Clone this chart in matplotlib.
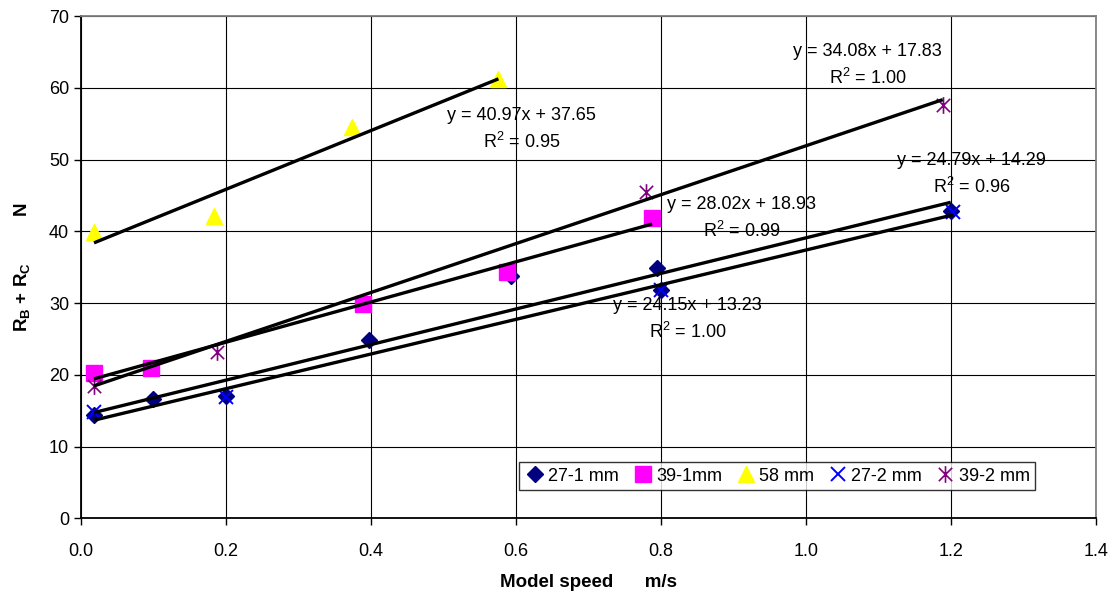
import numpy as np
import matplotlib
matplotlib.use("Agg")
import matplotlib.pyplot as plt
from matplotlib.path import Path

plt.rcParams['font.family'] = ['Liberation Sans', 'DejaVu Sans']
plt.rcParams['mathtext.fontset'] = 'custom'
plt.rcParams['mathtext.rm'] = 'Liberation Sans'
plt.rcParams['mathtext.it'] = 'Liberation Sans'
plt.rcParams['mathtext.bf'] = 'Liberation Sans:bold'

# ---------------- data ----------------
speed_27_1 = [0.018, 0.100, 0.200, 0.397, 0.593, 0.795, 0.800, 1.200]
force_27_1 = [14.4, 16.6, 17.0, 24.9, 33.7, 34.9, 31.8, 42.8]

speed_39_1 = [0.018, 0.097, 0.389, 0.588, 0.788]
force_39_1 = [20.3, 21.0, 29.8, 34.3, 41.8]

speed_58 = [0.018, 0.183, 0.374, 0.576]
force_58 = [39.9, 42.2, 54.6, 61.2]

speed_27_2 = [0.018, 0.200, 0.800, 1.203]
force_27_2 = [14.8, 16.9, 31.8, 42.7]

speed_39_2 = [0.018, 0.188, 0.780, 1.189]
force_39_2 = [18.5, 23.2, 45.5, 57.6]

# trendline coefficients (slope, intercept, r2)
fit_27_1 = (24.79, 14.29, 0.96)
fit_39_1 = (28.02, 18.93, 0.99)
fit_58 = (40.97, 37.65, 0.95)
fit_27_2 = (24.15, 13.23, 1.00)
fit_39_2 = (34.08, 17.83, 1.00)

# asterisk marker: X with a vertical bar
star = Path(
    [(-1, -1), (1, 1), (-1, 1), (1, -1), (0, -1.25), (0, 1.25)],
    [Path.MOVETO, Path.LINETO, Path.MOVETO, Path.LINETO, Path.MOVETO, Path.LINETO]
)

series = [
    (speed_27_1, force_27_1, fit_27_1, "27-1 mm",
     dict(marker='D', color='#000080', markersize=8, linestyle='none')),
    (speed_39_1, force_39_1, fit_39_1, "39-1mm",
     dict(marker='s', color='#FF00FF', markersize=11, linestyle='none')),
    (speed_58, force_58, fit_58, "58 mm",
     dict(marker='^', color='#FFFF00', markersize=12, linestyle='none')),
    (speed_27_2, force_27_2, fit_27_2, "27-2 mm",
     dict(marker='x', color='#0000FF', markersize=10, markeredgewidth=1.4,
          linestyle='none')),
    (speed_39_2, force_39_2, fit_39_2, "39-2 mm",
     dict(marker=star, color='#800080', markersize=12, markeredgewidth=1.2,
          fillstyle='none', linestyle='none')),
]

fig = plt.figure(figsize=(11.09, 5.95), dpi=100)
ax = fig.add_axes([0.073, 0.129, 0.915, 0.844])

for xs, ys, fit, name, style in series:
    ax.plot(xs, ys, label=name, zorder=3, **style)

# trendlines
for xs, ys, fit, name, style in series:
    xl = np.array([min(xs), max(xs)])
    ax.plot(xl, fit[0] * xl + fit[1], color='black', linewidth=2.4,
            solid_capstyle='butt', zorder=4)

# equation labels
eq_pos = [
    (fit_27_1, 1.229, 49.8),
    (fit_39_1, 0.912, 43.7),
    (fit_58, 0.608, 56.1),
    (fit_27_2, 0.837, 29.6),
    (fit_39_2, 1.085, 65.0),
]
for fit, ex, ey in eq_pos:
    ax.text(ex, ey, "y = %.2fx + %.2f" % (fit[0], fit[1]), fontsize=13,
            ha='center', va='center', zorder=5)
    ax.text(ex, ey - 3.6, "R$^2$ = %.2f" % fit[2], fontsize=13,
            ha='center', va='center', zorder=5)

ax.set_xlim(0, 1.4)
ax.set_ylim(0, 70)
ax.set_xticks(np.arange(0, 1.41, 0.2))
ax.set_yticks(np.arange(0, 71, 10))
ax.set_xticklabels(["%.1f" % v for v in np.arange(0, 1.41, 0.2)])
ax.tick_params(labelsize=13, direction='out', length=5, width=1)
ax.tick_params(axis='x', pad=13)
ax.grid(True, color='black', linewidth=0.8)
ax.set_axisbelow(True)

for s in ['left', 'bottom']:
    ax.spines[s].set_linewidth(1.3)
for s in ['top', 'right']:
    ax.spines[s].set_color('#808080')
    ax.spines[s].set_linewidth(1.3)

ax.set_xlabel("Model speed      m/s", fontsize=13.5, fontweight='bold',
              labelpad=10)
ax.set_ylabel(r"$\mathbf{R_B}$ + $\mathbf{R_C}$         N", fontsize=13.5,
              fontweight='bold', labelpad=12)

leg = ax.legend(loc='center', bbox_to_anchor=(0.686, 0.084), ncol=5,
                fontsize=13, frameon=True, fancybox=False,
                handletextpad=0.15, columnspacing=0.7, handlelength=1.2,
                borderpad=0.3, borderaxespad=0)
leg.get_frame().set_edgecolor('black')
leg.get_frame().set_linewidth(1.0)

fig.savefig("out.png", dpi=100, facecolor='white')
